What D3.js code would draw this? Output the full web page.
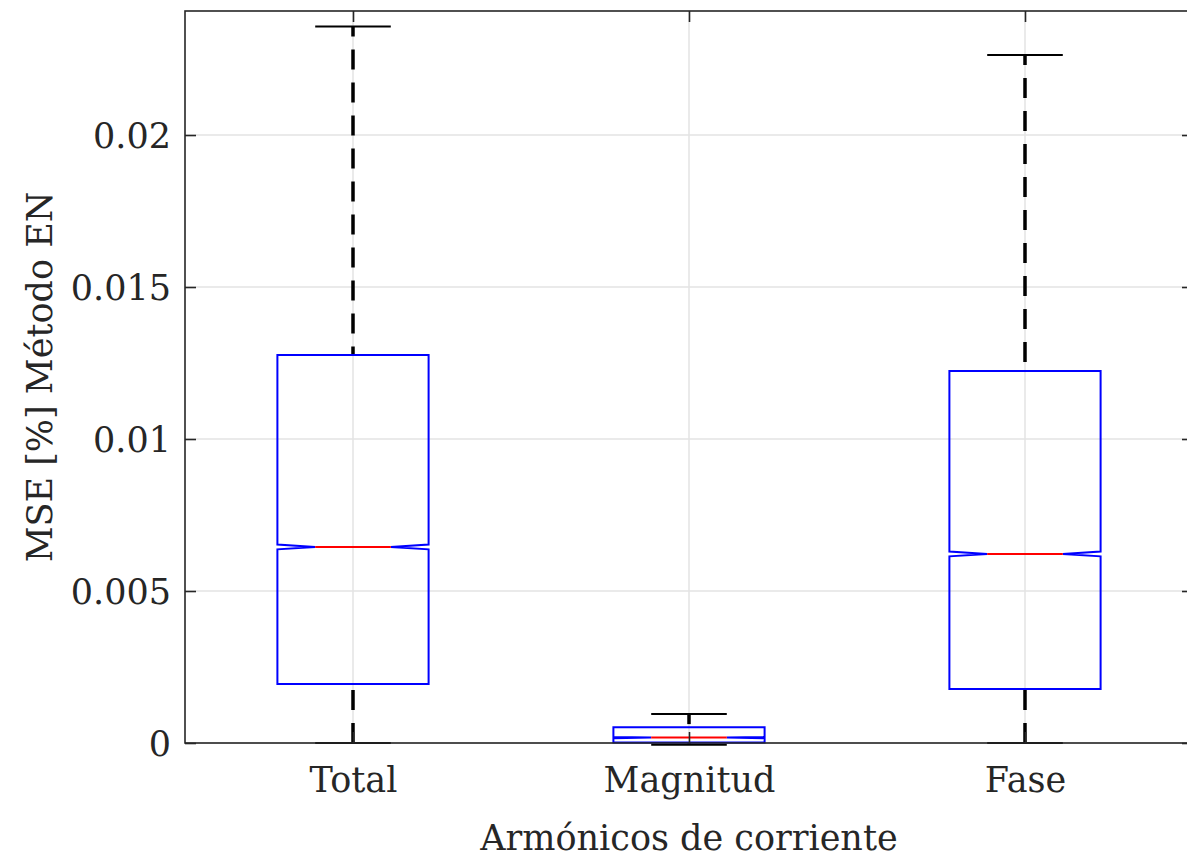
<!DOCTYPE html>
<html>
<head>
<meta charset="utf-8">
<script src="https://cdn.jsdelivr.net/npm/d3@7"></script>
<style>
  body { margin: 0; background: #fff; }
  svg text { font-family: "DejaVu Serif", serif; fill: #262626; }
</style>
</head>
<body>
<div id="chart"></div>
<script>
// categories and box statistics
const categories = ["Total", "Magnitud", "Fase"];
const whiskerHigh = [0.02357, 0.00095, 0.02263];
const q3 = [0.01276, 0.00052, 0.01224];
const median = [0.00645, 0.00018, 0.00622];
const q1 = [0.00194, 0.00002, 0.00178];
const whiskerLow = [0.0, -0.00006, 0.0];
const notchHalf = [0.00008, 0.00002, 0.00008];
const yTicks = [0, 0.005, 0.01, 0.015, 0.02];
const yTickLabels = ["0", "0.005", "0.01", "0.015", "0.02"];

window.onload = function () {
    drawChart();
};

function drawChart() {
    let width = 1187,
        height = 858;
    let margin = {top: 11, left: 185, bottom: 743};
    let fontSize = "35px";

    let svg = d3.select("#chart")
        .append("svg")
        .attr("width", width)
        .attr("height", height);

    // scales: x is numeric 0.5 .. 3.5 like matlab boxplot
    let x = d3.scaleLinear()
        .domain([0.5, 3.5])
        .range([margin.left, 1193]);
    let y = d3.scaleLinear()
        .domain([0, 0.02408])
        .range([margin.bottom, margin.top]);

    let boxW = 0.45; // in x units
    let capW = boxW / 2;

    // grid
    let grid = svg.append("g");
    grid.selectAll("gridY")
        .data(yTicks)
        .enter()
        .append("line")
        .attr("x1", x(0.5)).attr("x2", x(3.5))
        .attr("y1", d => y(d)).attr("y2", d => y(d))
        .attr("stroke", "#e3e3e3")
        .attr("stroke-width", 1.5);
    grid.selectAll("gridX")
        .data(categories)
        .enter()
        .append("line")
        .attr("x1", (d, i) => x(i + 1)).attr("x2", (d, i) => x(i + 1))
        .attr("y1", y.range()[0]).attr("y2", y.range()[1])
        .attr("stroke", "#e3e3e3")
        .attr("stroke-width", 1.5);

    // the boxes
    let boxes = svg.selectAll("box")
        .data(categories)
        .enter()
        .append("g");

    // whiskers (dashed), drawn from the cap towards the box
    boxes.append("line")
        .attr("x1", (d, i) => x(i + 1)).attr("x2", (d, i) => x(i + 1))
        .attr("y1", (d, i) => y(whiskerHigh[i])).attr("y2", (d, i) => y(q3[i]))
        .attr("stroke", "#000")
        .attr("stroke-width", 3.5)
        .attr("stroke-dasharray", "20,13")
        .attr("stroke-dashoffset", 10);
    boxes.append("line")
        .attr("x1", (d, i) => x(i + 1)).attr("x2", (d, i) => x(i + 1))
        .attr("y1", (d, i) => y(whiskerLow[i])).attr("y2", (d, i) => y(q1[i]))
        .attr("stroke", "#000")
        .attr("stroke-width", 3.5)
        .attr("stroke-dasharray", "20,13");

    // caps
    boxes.append("line")
        .attr("x1", (d, i) => x(i + 1 - capW / 2)).attr("x2", (d, i) => x(i + 1 + capW / 2))
        .attr("y1", (d, i) => y(whiskerHigh[i])).attr("y2", (d, i) => y(whiskerHigh[i]))
        .attr("stroke", "#000")
        .attr("stroke-width", 2);
    boxes.append("line")
        .attr("x1", (d, i) => x(i + 1 - capW / 2)).attr("x2", (d, i) => x(i + 1 + capW / 2))
        .attr("y1", (d, i) => y(whiskerLow[i])).attr("y2", (d, i) => y(whiskerLow[i]))
        .attr("stroke", "#000")
        .attr("stroke-width", 2);

    // notched box outline
    boxes.append("path")
        .attr("d", function (d, i) {
            let c = i + 1;
            let l = x(c - boxW / 2), r = x(c + boxW / 2);
            let nl = x(c - boxW / 4), nr = x(c + boxW / 4);
            let p = d3.path();
            p.moveTo(l, y(q1[i]));
            p.lineTo(l, y(median[i] - notchHalf[i]));
            p.lineTo(nl, y(median[i]));
            p.lineTo(l, y(median[i] + notchHalf[i]));
            p.lineTo(l, y(q3[i]));
            p.lineTo(r, y(q3[i]));
            p.lineTo(r, y(median[i] + notchHalf[i]));
            p.lineTo(nr, y(median[i]));
            p.lineTo(r, y(median[i] - notchHalf[i]));
            p.lineTo(r, y(q1[i]));
            p.closePath();
            return p.toString();
        })
        .attr("fill", "none")
        .attr("stroke", "#0000ff")
        .attr("stroke-width", 2);

    // median
    boxes.append("line")
        .attr("x1", (d, i) => x(i + 1 - boxW / 4)).attr("x2", (d, i) => x(i + 1 + boxW / 4))
        .attr("y1", (d, i) => y(median[i])).attr("y2", (d, i) => y(median[i]))
        .attr("stroke", "#ff0000")
        .attr("stroke-width", 2);

    // axes frame + ticks
    let axisColor = "#262626";
    svg.append("rect")
        .attr("x", x(0.5)).attr("y", margin.top)
        .attr("width", x(3.5) - x(0.5))
        .attr("height", margin.bottom - margin.top)
        .attr("fill", "none")
        .attr("stroke", axisColor)
        .attr("stroke-width", 1.6);

    let yLeft = svg.append("g")
        .attr("transform", "translate(" + x(0.5) + ",0)")
        .call(d3.axisLeft(y).tickValues(yTicks).tickSizeInner(-11).tickSizeOuter(0)
            .tickFormat((d, i) => yTickLabels[i]).tickPadding(14));
    yLeft.attr("font-family", null).attr("font-size", null);
    yLeft.select(".domain").remove();
    yLeft.selectAll("line").attr("stroke", axisColor).attr("stroke-width", 1.6);
    yLeft.selectAll("text")
        .style("font-size", fontSize)
        .attr("dy", "0.35em");

    let yRight = svg.append("g")
        .attr("transform", "translate(" + x(3.5) + ",0)")
        .call(d3.axisRight(y).tickValues(yTicks).tickSizeInner(-11).tickSizeOuter(0).tickFormat(""));
    yRight.select(".domain").remove();
    yRight.selectAll("line").attr("stroke", axisColor).attr("stroke-width", 1.6);

    let xBottom = svg.append("g")
        .attr("transform", "translate(0," + margin.bottom + ")")
        .call(d3.axisBottom(x).tickValues([1, 2, 3]).tickSizeInner(-11).tickSizeOuter(0)
            .tickFormat(d => categories[d - 1]).tickPadding(24));
    xBottom.attr("font-family", null).attr("font-size", null);
    xBottom.select(".domain").remove();
    xBottom.selectAll("line").attr("stroke", axisColor).attr("stroke-width", 1.6);
    xBottom.selectAll("text")
        .style("font-size", fontSize);

    let xTop = svg.append("g")
        .attr("transform", "translate(0," + margin.top + ")")
        .call(d3.axisTop(x).tickValues([1, 2, 3]).tickSizeInner(-11).tickSizeOuter(0).tickFormat(""));
    xTop.select(".domain").remove();
    xTop.selectAll("line").attr("stroke", axisColor).attr("stroke-width", 1.6);

    // axis labels
    svg.append("text")
        .attr("x", x(2))
        .attr("y", 850)
        .attr("text-anchor", "middle")
        .style("font-size", fontSize)
        .text("Armónicos de corriente");

    svg.append("text")
        .attr("transform", "translate(52," + (margin.top + margin.bottom) / 2 + ") rotate(-90)")
        .attr("text-anchor", "middle")
        .style("font-size", fontSize)
        .text("MSE [%] Método EN");
}
</script>
</body>
</html>
